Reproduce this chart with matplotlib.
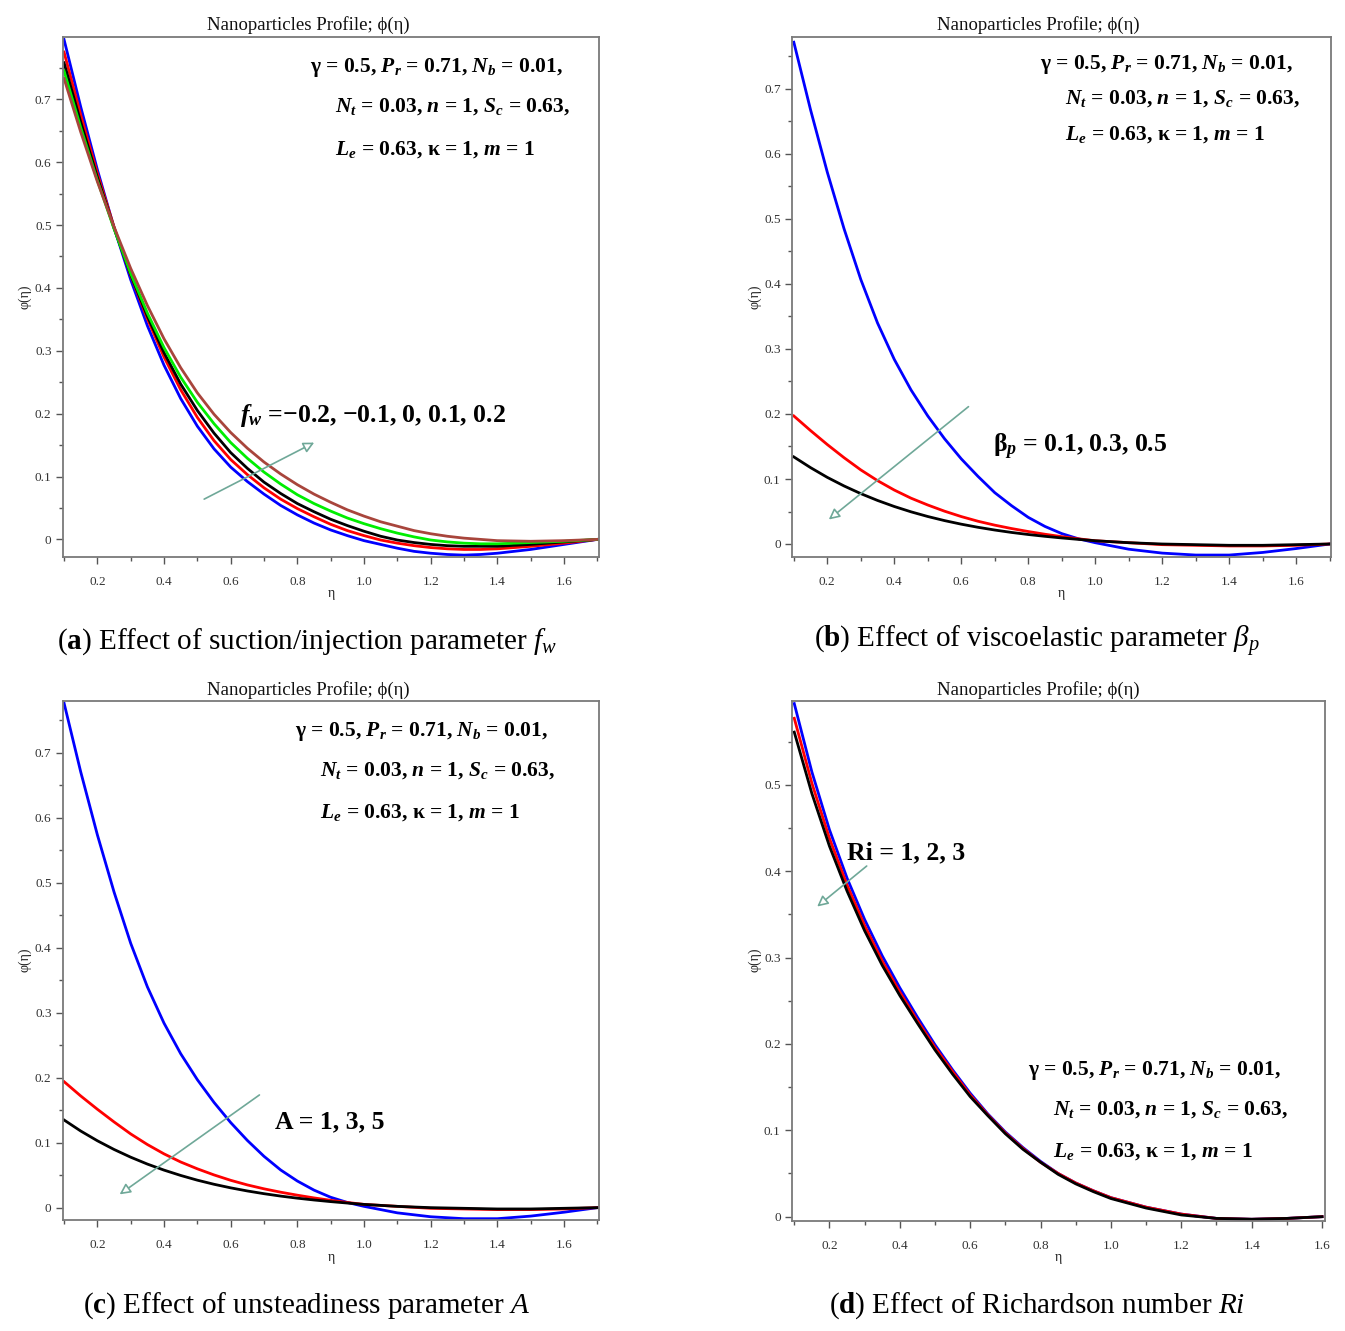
import matplotlib
matplotlib.use('Agg')
import matplotlib.pyplot as plt
from matplotlib.ticker import MultipleLocator, FuncFormatter
from matplotlib.patches import FancyArrowPatch

plt.rcParams['font.family'] = ['Liberation Serif', 'DejaVu Serif']
plt.rcParams['mathtext.fontset'] = 'custom'
plt.rcParams['mathtext.rm'] = 'Liberation Serif'
plt.rcParams['mathtext.it'] = 'Liberation Serif:italic'
plt.rcParams['mathtext.bf'] = 'Liberation Serif:bold'
plt.rcParams['mathtext.bfit'] = 'Liberation Serif:bold:italic'

# ---------------- data ----------------
eta_a = [0.1, 0.15, 0.2, 0.25, 0.3, 0.35, 0.4, 0.45, 0.5, 0.55, 0.6, 0.65, 0.7, 0.75, 0.8,
         0.85, 0.9, 0.95, 1.0, 1.05, 1.1, 1.15, 1.2, 1.25, 1.3, 1.35, 1.4, 1.5, 1.6, 1.7]
fw_values = ["-0.2", "-0.1", "0", "0.1", "0.2"]
phi_a_blue = [0.795, 0.688, 0.588, 0.496, 0.413, 0.340, 0.277, 0.224, 0.180, 0.144, 0.115, 0.092,
              0.072, 0.054, 0.039, 0.026, 0.015, 0.006, -0.002, -0.008, -0.014, -0.019, -0.022,
              -0.024, -0.025, -0.024, -0.022, -0.016, -0.008, 0.0]
phi_a_red = [0.775, 0.675, 0.582, 0.497, 0.420, 0.351, 0.290, 0.238, 0.194, 0.157, 0.127, 0.103,
             0.082, 0.064, 0.049, 0.036, 0.024, 0.014, 0.006, -0.001, -0.006, -0.010, -0.013,
             -0.015, -0.016, -0.016, -0.015, -0.011, -0.006, 0.0]
phi_a_black = [0.758, 0.664, 0.576, 0.495, 0.421, 0.355, 0.297, 0.247, 0.205, 0.169, 0.138, 0.113,
               0.091, 0.073, 0.057, 0.044, 0.032, 0.022, 0.013, 0.005, -0.001, -0.005, -0.008,
               -0.010, -0.011, -0.011, -0.011, -0.008, -0.004, 0.0]
phi_a_green = [0.745, 0.655, 0.571, 0.494, 0.423, 0.360, 0.305, 0.258, 0.218, 0.184, 0.154, 0.129,
               0.107, 0.088, 0.071, 0.057, 0.045, 0.034, 0.025, 0.017, 0.010, 0.004, -0.001,
               -0.004, -0.006, -0.007, -0.007, -0.005, -0.003, 0.0]
phi_a_brown = [0.733, 0.648, 0.569, 0.497, 0.431, 0.372, 0.319, 0.273, 0.233, 0.199, 0.170, 0.145,
               0.123, 0.104, 0.087, 0.072, 0.059, 0.047, 0.037, 0.028, 0.021, 0.014, 0.009,
               0.005, 0.002, 0.000, -0.002, -0.003, -0.002, 0.0]

eta_b = [0.1, 0.15, 0.2, 0.25, 0.3, 0.35, 0.4, 0.45, 0.5, 0.55, 0.6, 0.65, 0.7, 0.75, 0.8,
         0.85, 0.9, 0.95, 1.0, 1.1, 1.2, 1.3, 1.4, 1.5, 1.6, 1.7]
beta_values = ["0.1", "0.3", "0.5"]
phi_b_blue = [0.772, 0.668, 0.572, 0.485, 0.407, 0.340, 0.284, 0.237, 0.197, 0.162, 0.131, 0.104,
              0.079, 0.059, 0.041, 0.027, 0.016, 0.008, 0.002, -0.008, -0.014, -0.017, -0.017,
              -0.013, -0.007, 0.0]
phi_b_red = [0.197, 0.1745, 0.153, 0.1328, 0.114, 0.0975, 0.083, 0.0705, 0.060, 0.0505, 0.0422,
             0.035, 0.029, 0.0238, 0.0192, 0.015, 0.0113, 0.008, 0.005, 0.002, -0.001, -0.002,
             -0.003, -0.003, -0.002, 0.0]
phi_b_black = [0.134, 0.1175, 0.1025, 0.0893, 0.0775, 0.067, 0.0577, 0.0495, 0.0423, 0.036,
               0.0305, 0.0257, 0.0215, 0.0178, 0.0146, 0.0118, 0.0093, 0.0071, 0.005, 0.002,
               0.0, -0.001, -0.002, -0.002, -0.001, 0.0]

eta_c = eta_b
A_values = ["1", "3", "5"]
phi_c_blue = [0.777, 0.671, 0.574, 0.486, 0.407, 0.340, 0.284, 0.237, 0.197, 0.162, 0.131, 0.1035,
              0.079, 0.058, 0.041, 0.027, 0.016, 0.008, 0.002, -0.008, -0.014, -0.017, -0.017,
              -0.013, -0.007, 0.0]
phi_c_red = [0.194, 0.172, 0.1515, 0.132, 0.1135, 0.0972, 0.0828, 0.0703, 0.0598, 0.0504, 0.0421,
             0.035, 0.029, 0.0238, 0.0192, 0.015, 0.0113, 0.008, 0.005, 0.002, -0.001, -0.002,
             -0.003, -0.003, -0.002, 0.0]
phi_c_black = [0.135, 0.118, 0.103, 0.0896, 0.0777, 0.0671, 0.0578, 0.0496, 0.0423, 0.036,
               0.0305, 0.0257, 0.0215, 0.0178, 0.0146, 0.0118, 0.0093, 0.0071, 0.005, 0.002,
               0.0, -0.001, -0.002, -0.002, -0.001, 0.0]

eta_d = [0.1, 0.15, 0.2, 0.25, 0.3, 0.35, 0.4, 0.45, 0.5, 0.55, 0.6, 0.65, 0.7, 0.75, 0.8,
         0.85, 0.9, 0.95, 1.0, 1.1, 1.2, 1.3, 1.4, 1.5, 1.6]
Ri_values = ["1", "2", "3"]
phi_d_blue = [0.594, 0.515, 0.448, 0.392, 0.344, 0.302, 0.265, 0.231, 0.199, 0.170, 0.143, 0.119,
              0.098, 0.080, 0.064, 0.050, 0.039, 0.030, 0.022, 0.011, 0.003, -0.002, -0.003,
              -0.002, 0.0]
phi_d_red = [0.577, 0.502, 0.438, 0.384, 0.337, 0.296, 0.260, 0.227, 0.196, 0.168, 0.141, 0.118,
             0.097, 0.079, 0.063, 0.050, 0.039, 0.030, 0.022, 0.011, 0.003, -0.002, -0.003,
             -0.002, 0.0]
phi_d_black = [0.561, 0.490, 0.429, 0.377, 0.331, 0.291, 0.256, 0.224, 0.193, 0.165, 0.139, 0.117,
               0.096, 0.078, 0.063, 0.049, 0.038, 0.029, 0.021, 0.010, 0.002, -0.002, -0.003,
               -0.002, 0.0]

# ---------------- styling ----------------
C_BLUE, C_RED, C_BLACK, C_GREEN, C_BROWN = '#0000ff', '#ff0000', '#000000', '#00ee00', '#a8453c'
C_ARROW = '#6fa898'
SPINE = '#7a7a7a'
LW = 2.0

fig = plt.figure(figsize=(13.45, 13.31), dpi=100)

W, H = 1345.0, 1331.0
def ax_at(l, t, r, b):
    return fig.add_axes([l / W, 1 - b / H, (r - l) / W, (b - t) / H])

ax_a = ax_at(62.7, 37, 599, 557)
ax_b = ax_at(791.8, 37, 1331, 557)
ax_c = ax_at(62.7, 701, 599, 1220)
ax_d = ax_at(791.8, 701, 1324.5, 1221)

def xfmt(v, p):
    return f"{v:.1f}"
def yfmt(v, p):
    return "0" if abs(v) < 1e-9 else f"{v:.1f}"

def style(ax, xlim, ylim):
    ax.set_xlim(*xlim)
    ax.set_ylim(*ylim)
    ax.xaxis.set_major_locator(MultipleLocator(0.2))
    ax.xaxis.set_minor_locator(MultipleLocator(0.1))
    ax.yaxis.set_major_locator(MultipleLocator(0.1))
    ax.yaxis.set_minor_locator(MultipleLocator(0.05))
    ax.xaxis.set_major_formatter(FuncFormatter(xfmt))
    ax.yaxis.set_major_formatter(FuncFormatter(yfmt))
    for s in ax.spines.values():
        s.set_color(SPINE)
        s.set_linewidth(1.3)
    ax.tick_params(which='both', direction='out', color='#555555', width=1.0,
                   top=False, right=False)
    ax.tick_params(which='major', length=5, labelsize=9.5, labelcolor='#333333')
    ax.tick_params(which='minor', length=3)
    ax.tick_params(axis='x', which='major', pad=9)
    ax.tick_params(axis='y', which='major', pad=3)

style(ax_a, (0.096, 1.705), (-0.028, 0.799))
style(ax_b, (0.094, 1.704), (-0.020, 0.780))
style(ax_c, (0.096, 1.705), (-0.019, 0.780))
style(ax_d, (0.093, 1.607), (-0.005, 0.597))

# curves
ax_a.plot(eta_a, phi_a_blue, color=C_BLUE, lw=LW)
ax_a.plot(eta_a, phi_a_red, color=C_RED, lw=LW)
ax_a.plot(eta_a, phi_a_black, color=C_BLACK, lw=LW)
ax_a.plot(eta_a, phi_a_green, color=C_GREEN, lw=LW)
ax_a.plot(eta_a, phi_a_brown, color=C_BROWN, lw=LW)

ax_b.plot(eta_b, phi_b_blue, color=C_BLUE, lw=LW)
ax_b.plot(eta_b, phi_b_red, color=C_RED, lw=LW)
ax_b.plot(eta_b, phi_b_black, color=C_BLACK, lw=LW)

ax_c.plot(eta_c, phi_c_blue, color=C_BLUE, lw=LW)
ax_c.plot(eta_c, phi_c_red, color=C_RED, lw=LW)
ax_c.plot(eta_c, phi_c_black, color=C_BLACK, lw=LW)

ax_d.plot(eta_d, phi_d_blue, color=C_BLUE, lw=LW)
ax_d.plot(eta_d, phi_d_red, color=C_RED, lw=LW)
ax_d.plot(eta_d, phi_d_black, color=C_BLACK, lw=LW)

# arrows
def arrow(ax, start, end):
    p = FancyArrowPatch(start, end, arrowstyle='-|>', mutation_scale=16,
                        lw=1.2, edgecolor=C_ARROW, facecolor='white', zorder=5)
    ax.add_patch(p)

arrow(ax_a, (0.513, 0.062), (0.858, 0.156))
arrow(ax_b, (0.628, 0.214), (0.198, 0.035))
arrow(ax_c, (0.693, 0.176), (0.26, 0.018))
arrow(ax_d, (0.312, 0.408), (0.159, 0.357))

# parameter texts
P1 = r"γ = 0.5, $\mathbfit{P}_{\mathbfit{r}}$ = 0.71, $\mathbfit{N}_{\mathbfit{b}}$ = 0.01,"
P2 = r"$\mathbfit{N}_{\mathbfit{t}}$ = 0.03, $\mathbfit{n}$ = 1, $\mathbfit{S}_{\mathbfit{c}}$ = 0.63,"
P3 = r"$\mathbfit{L}_{\mathbfit{e}}$ = 0.63, κ = 1, $\mathbfit{m}$ = 1"

def params(ax, x1, x2, ys):
    kw = dict(transform=ax.transAxes, fontsize=15.5, fontweight='bold', ha='left',
              va='baseline', color='black')
    ax.text(x1, ys[0], P1, **kw)
    ax.text(x2, ys[1], P2, **kw)
    ax.text(x2, ys[2], P3, **kw)

def fr(ax_top, ax_bot, y):
    return (ax_bot - y) / (ax_bot - ax_top)

params(ax_a, 0.461, 0.508, [fr(37, 557, 72), fr(37, 557, 112), fr(37, 557, 155)])
params(ax_b, 0.460, 0.507, [fr(37, 557, 69), fr(37, 557, 104), fr(37, 557, 140)])
params(ax_c, 0.433, 0.480, [fr(701, 1220, 736), fr(701, 1220, 776), fr(701, 1220, 818)])
params(ax_d, 0.443, 0.490, [fr(701, 1221, 1075), fr(701, 1221, 1115), fr(701, 1221, 1157)])

# effect labels
lab_kw = dict(fontsize=18.5, fontweight='bold', ha='left', va='baseline')
ax_a.text(0.331, fr(37, 557, 422),
          r"$\mathbfit{f}_{\mathbfit{w}}$ =" + "\u2212" + ", \u2212".join(v.lstrip('-') for v in fw_values[:2])
          + ", " + ", ".join(fw_values[2:]), transform=ax_a.transAxes, **lab_kw)
ax_b.text(0.373, fr(37, 557, 452), r"$\mathbf{\beta}_{\mathbfit{p}}$ = " + ", ".join(beta_values),
          transform=ax_b.transAxes, **lab_kw)
ax_c.text(0.396, fr(701, 1220, 1128), "A = " + ", ".join(A_values),
          transform=ax_c.transAxes, **lab_kw)
ax_d.text(0.104, fr(701, 1221, 859), "Ri = " + ", ".join(Ri_values),
          transform=ax_d.transAxes, **lab_kw)

# titles, axis labels
for (xc, yc) in [(308, 25), (1038, 25), (308, 690), (1038, 690)]:
    fig.text(xc / W, 1 - yc / H, "Nanoparticles Profile; \u03d5(\u03b7)", fontsize=13.5,
             ha='center', va='center', color='#111111')
for (xc, yc) in [(25, 297), (755, 297), (25, 960), (755, 960)]:
    fig.text(xc / W, 1 - yc / H, "\u03c6(\u03b7)", fontsize=10, rotation=90,
             ha='center', va='center', color='#222222')
for (xc, yc) in [(331, 593), (1061, 593), (331, 1257), (1058, 1257)]:
    fig.text(xc / W, 1 - yc / H, "\u03b7", fontsize=10, ha='center', va='center',
             color='#222222')

# captions
cap_kw = dict(fontsize=21, ha='center', va='center', color='black')
fig.text(307 / W, 1 - 642 / H, r"($\mathbf{a}$) Effect of suction/injection parameter $f_w$", **cap_kw)
fig.text(1037 / W, 1 - 642 / H, r"($\mathbf{b}$) Effect of viscoelastic parameter $\beta_p$", **cap_kw)
fig.text(307 / W, 1 - 1306 / H, r"($\mathbf{c}$) Effect of unsteadiness parameter $A$", **cap_kw)
fig.text(1037 / W, 1 - 1306 / H, r"($\mathbf{d}$) Effect of Richardson number $Ri$", **cap_kw)

fig.savefig('out.png', dpi=100)
